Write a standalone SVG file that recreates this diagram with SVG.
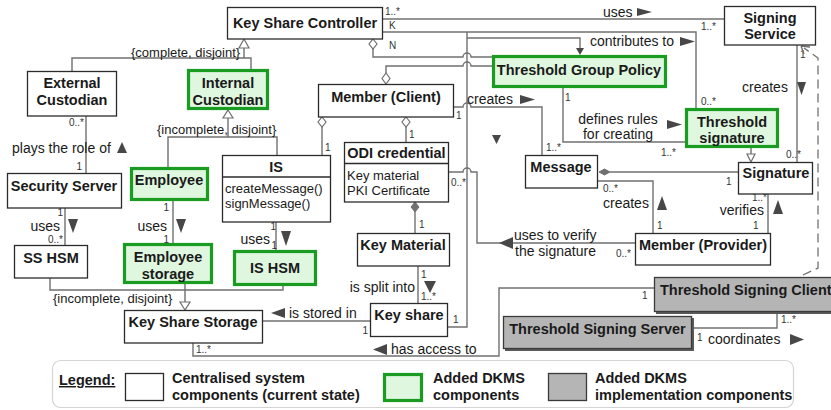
<svg xmlns="http://www.w3.org/2000/svg" width="831" height="410" viewBox="0 0 831 410">
  <style>
    .box { fill: #ffffff; stroke: #2b2b2b; stroke-width: 1.3; }
    .grn { fill: #dff7df; stroke: #1a9b22; stroke-width: 3.2; }
    .gry { fill: #b5b5b5; stroke: #3a3a3a; stroke-width: 1.3; }
    .shd { fill: #5a5a5a; }
    .ln { fill: none; stroke: #707070; stroke-width: 1.4; }
    .dash { fill: none; stroke: #707070; stroke-width: 1.3; stroke-dasharray: 9 5; }
    .dir { fill: #474747; }
    .gen { fill: #ffffff; stroke: #707070; stroke-width: 1.2; }
    .agg { fill: #ffffff; stroke: #707070; stroke-width: 1.2; }
    .cmp { fill: #707070; stroke: #707070; stroke-width: 1; }
    text { font-family: "Liberation Sans", Arial, sans-serif; fill: #1a1a1a; }
    .t { font-weight: bold; font-size: 14.5px; text-anchor: middle; }
    .ts { font-weight: bold; font-size: 14.5px; }
    .l { font-size: 14px; }
    .c { font-size: 13px; }
    .m { font-size: 10px; fill: #333; }
    .e { text-anchor: end; }
    .mid { text-anchor: middle; }
  </style>

  <!-- ===== connectors ===== -->
  <g id="connectors">
    <!-- Key Share Controller generalisation -->
    <path class="ln" d="M72,71 V58 H251 V69 M244,58 V48"/>
    <polygon class="gen" points="244,39 249,48 239,48"/>
    <text class="c" x="131" y="57">{complete, disjoint}</text>

    <!-- Internal Custodian generalisation -->
    <path class="ln" d="M168,167 V137 H277 V155 M228,137 V118"/>
    <polygon class="gen" points="228,110 233,118 223,118"/>
    <text class="c" x="157" y="134">{incomplete, disjoint}</text>

    <!-- Key Share Storage generalisation -->
    <path class="ln" d="M50,278 V290 H283 V286 M185,284 V303"/>
    <polygon class="gen" points="185,310 180,302 190,302"/>
    <text class="c" x="53" y="303">{incomplete, disjoint}</text>

    <!-- External Custodian - Security Server -->
    <path class="ln" d="M86,116 V173"/>
    <text class="m e" x="84" y="126">0..*</text>
    <text class="m e" x="82" y="170">1</text>
    <text class="l" x="12" y="153">plays the role of</text>
    <polygon class="dir" points="117,153 127,153 122,142"/>

    <!-- Security Server - SS HSM -->
    <path class="ln" d="M65,208 V245"/>
    <text class="m e" x="63" y="216">1</text>
    <text class="l e" x="60" y="231">uses</text>
    <text class="m e" x="63" y="243">0..*</text>
    <polygon class="dir" points="68,219 78,219 73,233"/>

    <!-- Employee - Employee storage -->
    <path class="ln" d="M173,201 V243"/>
    <text class="m e" x="169" y="211">1</text>
    <text class="l e" x="167" y="231">uses</text>
    <text class="m e" x="169" y="243">1</text>
    <polygon class="dir" points="176,219 186,219 181,233"/>

    <!-- IS - IS HSM -->
    <path class="ln" d="M276,222 V250"/>
    <text class="m e" x="276" y="230">1</text>
    <text class="l e" x="270" y="244">uses</text>
    <text class="m e" x="277" y="249">1</text>
    <polygon class="dir" points="281,231 291,231 286,246"/>

    <!-- Member (Client) aggregates IS -->
    <path class="ln" d="M322,127 V155"/>
    <polygon class="agg" points="322,117 326,122 322,127 318,122"/>
    <text class="m" x="325" y="151">1</text>

    <!-- Member (Client) aggregates ODI credential -->
    <path class="ln" d="M406,127 V142"/>
    <polygon class="agg" points="406,117 410,122 406,127 402,122"/>
    <text class="m" x="409" y="138">1</text>

    <!-- ODI credential composes Key Material -->
    <path class="ln" d="M415,212 V233"/>
    <polygon class="cmp" points="415,202 419,207 415,212 411,207"/>
    <text class="m" x="419" y="228">1</text>

    <!-- Key Material - Key share -->
    <path class="ln" d="M418,266 V303"/>
    <text class="m" x="421" y="278">1</text>
    <text class="m" x="421" y="300">1..*</text>
    <text class="l e" x="415" y="292">is split into</text>
    <polygon class="dir" points="424,281 436,281 430,293"/>

    <!-- Key Share Storage - Key share -->
    <path class="ln" d="M263,321 H370"/>
    <text class="m e" x="368" y="334">1</text>
    <text class="l" x="289" y="318">is stored in</text>
    <polygon class="dir" points="285,308 285,318 271,313"/>

    <!-- Key Share Storage - Threshold Signing Client -->
    <path class="ln" d="M193,343 V356 H499 V288 H654"/>
    <text class="m" x="196" y="353">1..*</text>
    <text class="m" x="642" y="299">1</text>
    <text class="l" x="391" y="354">has access to</text>
    <polygon class="dir" points="387,344 387,355 373,349.5"/>

    <!-- Threshold Signing Server - Threshold Signing Client -->
    <path class="ln" d="M692,328 H777 V312"/>
    <text class="m" x="781" y="323">1..*</text>
    <text class="m" x="697" y="341">1</text>
    <text class="l" x="708" y="344">coordinates</text>
    <polygon class="dir" points="790,334 790,345 804,339.5"/>

    <!-- Key Share Controller - Signing Service -->
    <path class="ln" d="M383,19 H724"/>
    <text class="m" x="385" y="15">1..*</text>
    <text class="m" x="701" y="30">1..*</text>
    <text class="l" x="603" y="16.5">uses</text>
    <polygon class="dir" points="637,8 637,16 652,12"/>

    <!-- Key Share Controller (K) - Threshold signature -->
    <path class="ln" d="M383,32 H696 V108"/>
    <text class="m" x="389" y="29">K</text>
    <text class="m" x="389" y="49">N</text>
    <text class="m" x="701" y="105">0..*</text>
    <text class="l" x="590" y="46">contributes to</text>
    <polygon class="dir" points="680,37 680,46 695,41.5"/>

    <!-- Key share (1) up to the controller -->
    <path class="ln" d="M448,327 H467 V32"/>
    <text class="m" x="453" y="323">1</text>

    <!-- Key Share Controller aggregates policy -->
    <polygon class="agg" points="373,39 377,44 373,49 369,44"/>
    <path class="ln" d="M373,49 V57 H463 A4,4 0 0 1 471,57 H492"/>
    <path class="ln" d="M467,38 H580 V50"/>
    <polygon class="dir" points="576,48 584,48 580,55"/>

    <!-- Member (Client) aggregates Threshold Group Policy -->
    <polygon class="agg" points="386,73 390,78.5 386,84 382,78.5"/>
    <path class="ln" d="M386,73 V66 H463 A4,4 0 0 1 471,66 H492"/>

    <!-- Member (Client) - Message -->
    <path class="ln" d="M454,107 H463 A4,4 0 0 1 471,107 H542 V155"/>
    <text class="m" x="456" y="119">1</text>
    <text class="m" x="546" y="151">1..*</text>
    <text class="l" x="467" y="104">creates</text>
    <polygon class="dir" points="520,95 520,104 535,99.5"/>
    <polygon class="dir" points="492,135 501,135 496.5,144"/>

    <!-- ODI credential - Member (Provider) -->
    <path class="ln" d="M449,172 H463 A4,4 0 0 1 471,172 H477 V243 H635"/>
    <text class="m" x="451" y="186">0..*</text>
    <text class="m e" x="631" y="257">0..*</text>
    <text class="l" x="514" y="240">uses to verify</text>
    <text class="l" x="515" y="256">the signature</text>
    <polygon class="dir" points="513,237 513,249 499,243"/>

    <!-- Threshold Group Policy - Threshold signature -->
    <path class="ln" d="M563,88 V142 H685"/>
    <text class="m" x="565" y="101">1</text>
    <text class="m" x="661" y="156">1..*</text>
    <text class="l mid" x="618" y="124">defines rules</text>
    <text class="l mid" x="618" y="139">for creating</text>
    <polygon class="dir" points="667,120 667,129 682,124.5"/>

    <!-- Threshold signature specialises Signature -->
    <path class="ln" d="M751,148 V154"/>
    <polygon class="gen" points="751,162 747,154 755,154"/>

    <!-- Signing Service - Signature -->
    <path class="ln" d="M797,45 V162"/>
    <text class="m" x="800" y="58">1</text>
    <text class="m" x="786" y="158">0..*</text>
    <text class="l" x="742" y="92">creates</text>
    <polygon class="dir" points="797,82 806,82 801.5,95"/>

    <!-- Message composed into Signature -->
    <path class="ln" d="M610,172 H738"/>
    <polygon class="cmp" points="599,172 604.5,169 610,172 604.5,175"/>
    <text class="m" x="726" y="185">1</text>

    <!-- Message - Member (Provider) -->
    <path class="ln" d="M598,181 H653 V233"/>
    <text class="m" x="603" y="192">0..*</text>
    <text class="l" x="603" y="208">creates</text>
    <polygon class="dir" points="657,210 667,210 662,196"/>
    <text class="m" x="657" y="229">1</text>

    <!-- Signature - Member (Provider) -->
    <path class="ln" d="M768,194 V233"/>
    <text class="m" x="752" y="201">1..*</text>
    <text class="l e" x="764" y="215">verifies</text>
    <text class="m" x="753" y="229">1</text>
    <polygon class="dir" points="773,214 783,214 778,200"/>

    <!-- Threshold Signing Client depends on Signing Service -->
    <path class="dash" d="M803,275 L818,268 V58 L804,48"/>
    <path class="ln" d="M801,46 L810,47 M801,46 L804,54"/>
  </g>

  <!-- ===== nodes ===== -->
  <g id="key-share-controller">
    <rect class="box" x="227.5" y="7.5" width="155" height="31.5"/>
    <text class="t" x="305" y="28">Key Share Controller</text>
  </g>
  <g id="external-custodian">
    <rect class="box" x="27.5" y="71.5" width="89" height="44.5"/>
    <text class="t" x="72" y="88">External</text>
    <text class="t" x="72" y="105">Custodian</text>
  </g>
  <g id="internal-custodian">
    <rect class="grn" x="188.5" y="70.5" width="79" height="38"/>
    <text class="t" x="228" y="88">Internal</text>
    <text class="t" x="228" y="105">Custodian</text>
  </g>
  <g id="security-server">
    <rect class="box" x="7.5" y="173.5" width="114" height="34.5"/>
    <text class="t" x="64" y="191">Security Server</text>
  </g>
  <g id="employee">
    <rect class="grn" x="131.5" y="168.5" width="76" height="31"/>
    <text class="t" x="169" y="185">Employee</text>
  </g>
  <g id="is">
    <rect class="box" x="222.5" y="155.5" width="108" height="66.5"/>
    <line x1="222.5" y1="177" x2="330.5" y2="177" stroke="#2b2b2b" stroke-width="1.3"/>
    <text class="t" x="276" y="172">IS</text>
    <text class="c" x="225" y="193">createMessage()</text>
    <text class="c" x="225" y="208">signMessage()</text>
  </g>
  <g id="ss-hsm">
    <rect class="box" x="14.5" y="245.5" width="73" height="32.5"/>
    <text class="t" x="51" y="263">SS HSM</text>
  </g>
  <g id="employee-storage">
    <rect class="grn" x="124.5" y="244.5" width="87" height="38"/>
    <text class="t" x="168" y="262">Employee</text>
    <text class="t" x="168" y="279">storage</text>
  </g>
  <g id="is-hsm">
    <rect class="grn" x="234.5" y="251.5" width="81" height="33"/>
    <text class="t" x="275" y="273">IS HSM</text>
  </g>
  <g id="member-client">
    <rect class="box" x="318.5" y="84.5" width="135" height="32.5"/>
    <text class="t" x="386" y="102">Member (Client)</text>
  </g>
  <g id="odi-credential">
    <rect class="box" x="344.5" y="142.5" width="104" height="59.5"/>
    <line x1="344.5" y1="163.5" x2="448.5" y2="163.5" stroke="#2b2b2b" stroke-width="1.3"/>
    <text class="t" x="396.5" y="158">ODI credential</text>
    <text class="c" x="347" y="180">Key material</text>
    <text class="c" x="347" y="195">PKI Certificate</text>
  </g>
  <g id="key-material">
    <rect class="box" x="357.5" y="233.5" width="92" height="32.5"/>
    <text class="t" x="403" y="250">Key Material</text>
  </g>
  <g id="key-share">
    <rect class="box" x="370.5" y="303.5" width="77" height="33"/>
    <text class="t" x="409" y="320">Key share</text>
  </g>
  <g id="key-share-storage">
    <rect class="box" x="124.5" y="310.5" width="138" height="32.5"/>
    <text class="t" x="193" y="327">Key Share Storage</text>
  </g>
  <g id="threshold-group-policy">
    <rect class="grn" x="493.5" y="56.5" width="172" height="30"/>
    <text class="t" x="579" y="75">Threshold Group Policy</text>
  </g>
  <g id="message">
    <rect class="box" x="525.5" y="155.5" width="72" height="32.5"/>
    <text class="t" x="561" y="172">Message</text>
  </g>
  <g id="signing-service">
    <rect class="box" x="724.5" y="6.5" width="91" height="38.5"/>
    <text class="t" x="770" y="23">Signing</text>
    <text class="t" x="770" y="39">Service</text>
  </g>
  <g id="threshold-signature">
    <rect class="grn" x="686.5" y="109.5" width="91" height="37"/>
    <text class="t" x="732" y="127">Threshold</text>
    <text class="t" x="732" y="143">signature</text>
  </g>
  <g id="signature">
    <rect class="box" x="738.5" y="162.5" width="74" height="31.5"/>
    <text class="t" x="776" y="178">Signature</text>
  </g>
  <g id="member-provider">
    <rect class="box" x="635.5" y="233.5" width="135" height="31.5"/>
    <text class="t" x="703" y="250">Member (Provider)</text>
  </g>
  <g id="threshold-signing-client">
    <rect class="shd" x="656" y="279" width="180" height="35"/>
    <rect class="gry" x="654.5" y="277.5" width="180" height="34"/>
    <text class="ts" x="660" y="295">Threshold Signing Client</text>
  </g>
  <g id="threshold-signing-server">
    <rect class="shd" x="505" y="318" width="189" height="33"/>
    <rect class="gry" x="503.5" y="316.5" width="188" height="32"/>
    <text class="t" x="597.5" y="334">Threshold Signing Server</text>
  </g>

  <!-- ===== legend ===== -->
  <g id="legend">
    <rect x="52.5" y="360.5" width="741" height="47" rx="8" fill="#ffffff" stroke="#d4d4d4" stroke-width="1.2"/>
    <text class="ts" x="59" y="385" text-decoration="underline">Legend:</text>
    <rect class="box" x="125.5" y="373.5" width="38" height="27"/>
    <text class="ts" x="172" y="383">Centralised system</text>
    <text class="ts" x="172" y="400">components (current state)</text>
    <rect class="grn" x="384.5" y="374.5" width="37" height="26"/>
    <text class="ts" x="433" y="383">Added DKMS</text>
    <text class="ts" x="433" y="400">components</text>
    <rect class="gry" x="548.5" y="373.5" width="38" height="27"/>
    <text class="ts" x="595" y="383">Added DKMS</text>
    <text class="ts" x="595" y="400">implementation components</text>
  </g>
</svg>
